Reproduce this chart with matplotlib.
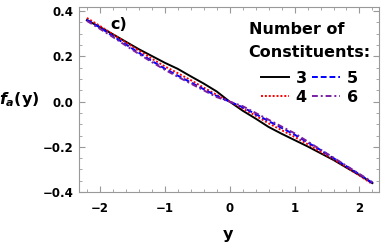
import matplotlib
matplotlib.use("Agg")
import matplotlib.pyplot as plt
from matplotlib.ticker import MultipleLocator

# values
y_vals = [-2.2, -2.0, -1.8, -1.6, -1.4, -1.2, -1.0, -0.8, -0.6, -0.4, -0.2, 0.0,
          0.2, 0.4, 0.6, 0.8, 1.0, 1.2, 1.4, 1.6, 1.8, 2.0, 2.2]
f3 = [0.360, 0.330, 0.298, 0.265, 0.232, 0.202, 0.172, 0.145, 0.112, 0.080, 0.045, 0.000,
      -0.040, -0.075, -0.112, -0.142, -0.170, -0.198, -0.228, -0.258, -0.292, -0.325, -0.360]
f4 = [0.370, 0.335, 0.298, 0.262, 0.226, 0.190, 0.156, 0.126, 0.095, 0.062, 0.030, 0.000,
      -0.030, -0.062, -0.096, -0.126, -0.156, -0.188, -0.222, -0.255, -0.290, -0.327, -0.365]
f5 = [0.362, 0.328, 0.290, 0.253, 0.216, 0.180, 0.146, 0.115, 0.085, 0.055, 0.025, 0.000,
      -0.025, -0.055, -0.086, -0.116, -0.146, -0.180, -0.214, -0.250, -0.286, -0.322, -0.360]
f6 = [0.357, 0.322, 0.286, 0.248, 0.211, 0.175, 0.141, 0.110, 0.080, 0.050, 0.020, 0.000,
      -0.020, -0.050, -0.080, -0.110, -0.140, -0.176, -0.212, -0.248, -0.284, -0.320, -0.356]
x_ticks = [-2, -1, 0, 1, 2]
x_labels = ['\u22122', '\u22121', '0', '1', '2']
y_ticks = [-0.4, -0.2, 0.0, 0.2, 0.4]
y_labels = ['\u22120.4', '\u22120.2', '0.0', '0.2', '0.4']

plt.rcParams['font.family'] = ['DejaVu Sans']
plt.rcParams['font.weight'] = 'bold'

fig = plt.figure(figsize=(3.82, 2.45), dpi=100)
ax = fig.add_axes([0.207, 0.216, 0.785, 0.755])

ax.plot(y_vals, f3, color='black', lw=1.4, label='3')
ax.plot(y_vals, f4, color='red', lw=1.4, linestyle=(0, (1, 1)), label='4')
ax.plot(y_vals, f5, color='blue', lw=1.4, linestyle=(0, (3, 1.5)), label='5')
ax.plot(y_vals, f6, color='#7a1fa2', lw=1.4, linestyle=(0, (3, 1.5, 1, 1.5)), label='6')

ax.set_xlim(-2.32, 2.3)
ax.set_ylim(-0.4, 0.418)
ax.xaxis.set_minor_locator(MultipleLocator(0.2))
ax.yaxis.set_minor_locator(MultipleLocator(0.05))
ax.set_xticks(x_ticks)
ax.set_xticklabels(x_labels)
ax.set_yticks(y_ticks)
ax.set_yticklabels(y_labels)
ax.tick_params(which='both', direction='in', top=True, right=True, color='#999999',
               labelsize=8.5, labelcolor='black')
ax.tick_params(which='major', length=4, width=0.8)
ax.tick_params(which='minor', length=2, width=0.6)
ax.tick_params(axis='x', pad=7)
ax.tick_params(axis='y', pad=4)
for s in ax.spines.values():
    s.set_color('#999999')
    s.set_linewidth(0.8)

ax.set_xlabel('y', fontsize=11.5, fontweight='bold', va='top')
ax.xaxis.set_label_coords(0.497, -0.19)
ax.set_ylabel(r'$\boldsymbol{f_a}$(y)', fontsize=11.5, fontweight='bold', rotation=0,
              va='center', ha='center')
ax.yaxis.set_label_coords(-0.2, 0.5)

ax.text(-1.84, 0.34, 'c)', fontsize=11.5, fontweight='bold', va='center')

# legend title as separate text, entries below it
ax.text(0.565, 0.818, 'Number of\nConstituents:', transform=ax.transAxes,
        fontsize=11.5, fontweight='bold', ha='left', va='center', linespacing=1.65)
leg = ax.legend(ncol=2, frameon=False, loc='upper right',
                bbox_to_anchor=(0.962, 0.707), fontsize=11.5,
                handlelength=1.8, handletextpad=0.4,
                columnspacing=0.3, labelspacing=0.25, borderpad=0.1)

fig.savefig('out.png', dpi=100)
